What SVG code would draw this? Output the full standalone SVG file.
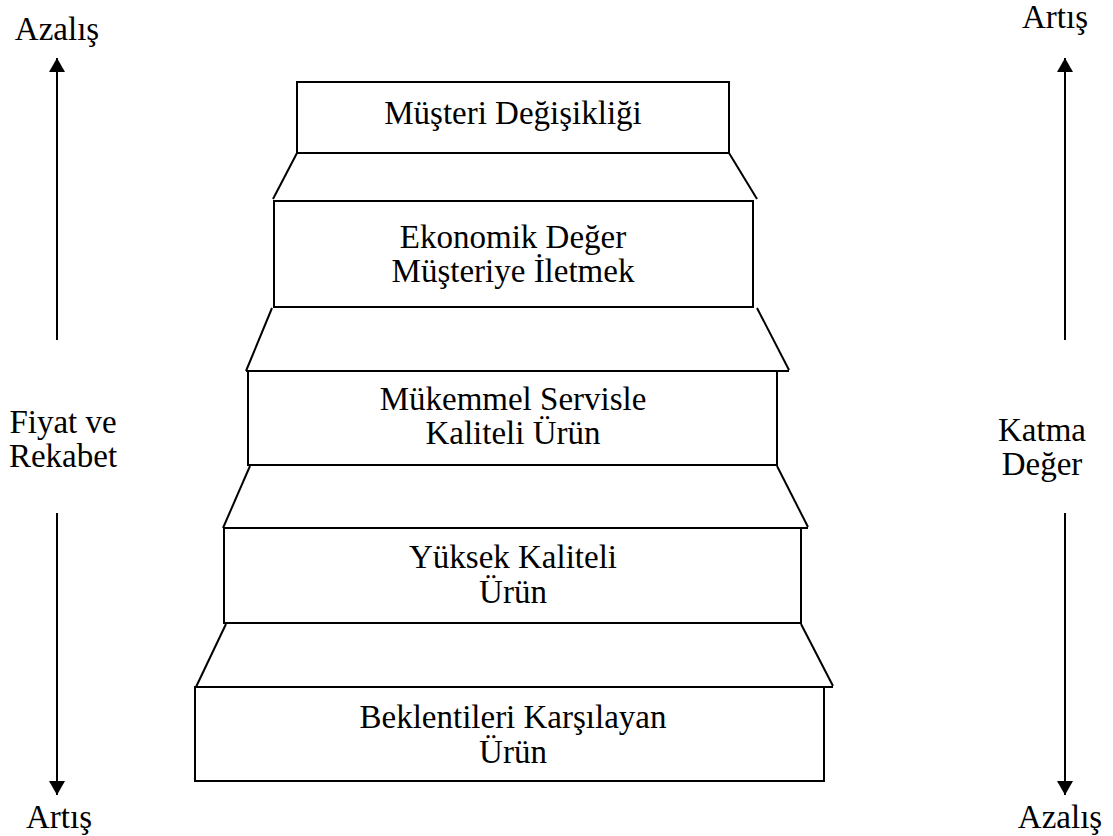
<svg xmlns="http://www.w3.org/2000/svg" width="1113" height="836" viewBox="0 0 1113 836">
<defs>
<style>
.box{fill:#fff;stroke:#000;stroke-width:2}
.ln{stroke:#000;stroke-width:2;fill:none}
.t{font-family:"Liberation Serif","Times New Roman",serif;font-size:33px;fill:#000;text-anchor:middle}
</style>
<marker id="ah2" viewBox="0 0 14 16" refX="14" refY="8" markerWidth="14" markerHeight="16" markerUnits="userSpaceOnUse" orient="auto">
<path d="M0,0 L14,8 L0,16 Z" fill="#000"/>
</marker>
</defs>
<rect width="1113" height="836" fill="#fff"/>
<g id="connectors">
<line class="ln" x1="297" y1="153" x2="273" y2="199"/>
<line class="ln" x1="729" y1="153" x2="757" y2="199"/>
<line class="ln" x1="272" y1="308" x2="246" y2="371"/>
<line class="ln" x1="757" y1="308" x2="789" y2="370"/>
<line class="ln" x1="246" y1="371" x2="789" y2="371"/>
<line class="ln" x1="250" y1="466" x2="223" y2="528"/>
<line class="ln" x1="777" y1="466" x2="808" y2="527"/>
<line class="ln" x1="223" y1="528" x2="808" y2="528"/>
<line class="ln" x1="226" y1="624" x2="196" y2="687"/>
<line class="ln" x1="801" y1="624" x2="833" y2="686"/>
<line class="ln" x1="195" y1="687" x2="833" y2="687"/>
<line class="ln" x1="57" y1="340" x2="57" y2="58" marker-end="url(#ah2)"/>
<line class="ln" x1="57" y1="513" x2="57" y2="795" marker-end="url(#ah2)"/>
<line class="ln" x1="1065" y1="340" x2="1065" y2="58" marker-end="url(#ah2)"/>
<line class="ln" x1="1065" y1="513" x2="1065" y2="795" marker-end="url(#ah2)"/>
</g>
<g id="n1"><rect class="box" x="297" y="82" width="432" height="71"/><text class="t" x="513" y="124">Müşteri Değişikliği</text></g>
<g id="n2"><rect class="box" x="274" y="201" width="479" height="106"/><text class="t" x="513" y="248">Ekonomik Değer</text><text class="t" x="513" y="282">Müşteriye İletmek</text></g>
<g id="n3"><rect class="box" x="248" y="371" width="529" height="94"/><text class="t" x="513" y="410">Mükemmel Servisle</text><text class="t" x="513" y="444">Kaliteli Ürün</text></g>
<g id="n4"><rect class="box" x="224" y="528" width="577" height="95"/><text class="t" x="513" y="568">Yüksek Kaliteli</text><text class="t" x="513" y="603">Ürün</text></g>
<g id="n5"><rect class="box" x="195" y="687" width="629" height="94"/><text class="t" x="513" y="728">Beklentileri Karşılayan</text><text class="t" x="513" y="763">Ürün</text></g>
<g id="labels">
<text class="t" x="57" y="40">Azalış</text>
<text class="t" x="59" y="828">Artış</text>
<text class="t" x="1055" y="28">Artış</text>
<text class="t" x="1060" y="828">Azalış</text>
<text class="t" x="63" y="433">Fiyat ve</text>
<text class="t" x="63" y="467">Rekabet</text>
<text class="t" x="1042" y="441">Katma</text>
<text class="t" x="1042" y="475">Değer</text>
</g>
</svg>
